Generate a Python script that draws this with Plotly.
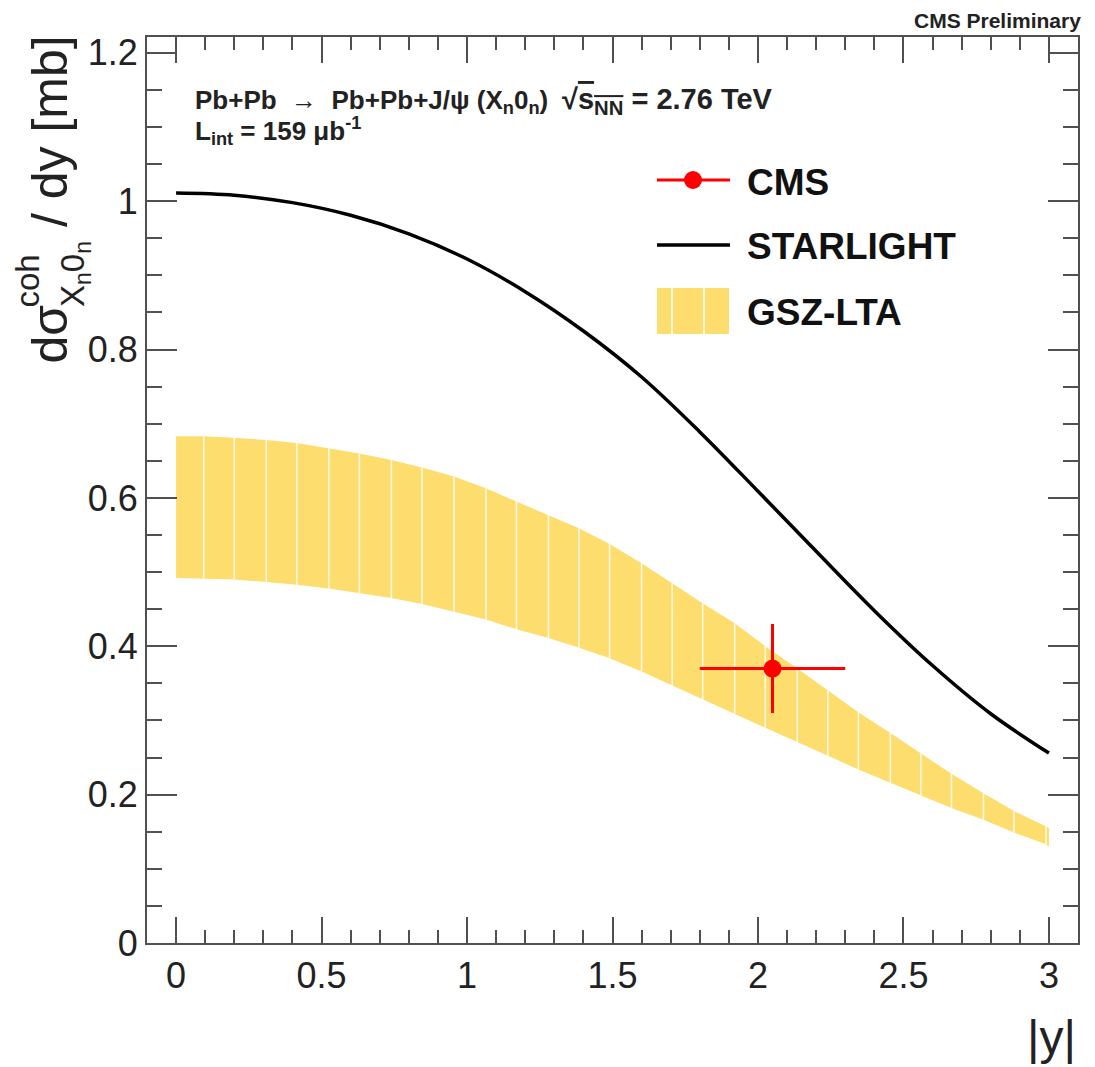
import plotly.graph_objects as go

# ---------------- data ----------------
# STARLIGHT prediction
starlight_y_abs = [0.0, 0.2, 0.4, 0.6, 0.8, 1.0, 1.2, 1.4, 1.6, 1.8, 2.0, 2.2, 2.4, 2.6, 2.8, 3.0]
starlight_xsec = [1.011, 1.008, 0.998, 0.981, 0.956, 0.922, 0.878, 0.825, 0.763, 0.689, 0.609,
                  0.528, 0.448, 0.374, 0.309, 0.256]

# GSZ-LTA band (nodes of the band polygon)
gsz_y_abs = [0.0, 0.095, 0.20, 0.31, 0.415, 0.525, 0.63, 0.74, 0.845, 0.955, 1.065, 1.17, 1.28,
             1.385, 1.49, 1.60, 1.705, 1.81, 1.92, 2.025, 2.135, 2.24, 2.345, 2.455, 2.56, 2.665,
             2.775, 2.88, 2.99, 3.0]
gsz_upper = [0.683, 0.683, 0.681, 0.678, 0.674, 0.667, 0.660, 0.651, 0.641, 0.629, 0.613, 0.595,
             0.577, 0.559, 0.538, 0.512, 0.485, 0.458, 0.431, 0.400, 0.370, 0.340, 0.311, 0.283,
             0.255, 0.228, 0.202, 0.178, 0.157, 0.155]
gsz_lower = [0.492, 0.491, 0.490, 0.4865, 0.483, 0.478, 0.472, 0.465, 0.457, 0.447, 0.436, 0.423,
             0.411, 0.398, 0.384, 0.366, 0.347, 0.328, 0.309, 0.290, 0.271, 0.252, 0.234, 0.216,
             0.199, 0.182, 0.166, 0.149, 0.133, 0.130]

# CMS measurement
cms_y_abs = [2.05]
cms_xsec = [0.37]
cms_xerr = [0.25]
cms_yerr = [0.06]

# ---------------- layout geometry ----------------
W, H = 1095, 1067
L, R, T, B = 147, 1078, 37, 943


def px(xpix):
    return (xpix - L) / (R - L)


def py(ypix):
    return (B - ypix) / (B - T)


FONT = "Liberation Sans, Arial, Helvetica, sans-serif"
AXCOL = "#505050"
BAND = "rgb(253,221,110)"
SEP = "rgba(255,255,255,0.8)"

fig = go.Figure()

# band
fig.add_trace(go.Scatter(x=gsz_y_abs, y=gsz_lower, mode="lines", line=dict(width=0),
                         showlegend=False, hoverinfo="skip"))
fig.add_trace(go.Scatter(x=gsz_y_abs, y=gsz_upper, mode="lines", line=dict(width=0),
                         fill="tonexty", fillcolor=BAND, showlegend=False, name="GSZ-LTA"))
# white separators between band polygons
sx, sy = [], []
for xv, lo, up in zip(gsz_y_abs[1:-1], gsz_lower[1:-1], gsz_upper[1:-1]):
    sx += [xv, xv, None]
    sy += [lo, up, None]
fig.add_trace(go.Scatter(x=sx, y=sy, mode="lines", line=dict(color=SEP, width=1.6),
                         showlegend=False, hoverinfo="skip"))

# STARLIGHT
fig.add_trace(go.Scatter(x=starlight_y_abs, y=starlight_xsec, mode="lines",
                         line=dict(color="black", width=3.5, shape="spline", smoothing=1.0),
                         showlegend=False, name="STARLIGHT"))

# CMS
fig.add_trace(go.Scatter(x=cms_y_abs, y=cms_xsec, mode="markers",
                         marker=dict(color="#ff0000", size=18),
                         error_x=dict(type="data", array=cms_xerr, color="#ff0000", thickness=3, width=0),
                         error_y=dict(type="data", array=cms_yerr, color="#ff0000", thickness=3, width=0),
                         showlegend=False, name="CMS"))

axis_common = dict(showline=True, linecolor=AXCOL, linewidth=2, mirror="ticks", ticks="inside",
                   tickcolor=AXCOL, tickwidth=2, showgrid=False, zeroline=False,
                   tickfont=dict(family=FONT, size=36, color="#222222"))

fig.update_xaxes(range=[-0.1, 3.1], dtick=0.5, tick0=0, ticklen=26,
                 minor=dict(dtick=0.1, tick0=0, ticks="inside", ticklen=13, tickcolor=AXCOL, tickwidth=2,
                            showgrid=False),
                 **axis_common)
fig.update_yaxes(range=[0, 1.2213], dtick=0.2, tick0=0, ticklen=30,
                 minor=dict(dtick=0.05, tick0=0, ticks="inside", ticklen=15, tickcolor=AXCOL, tickwidth=2,
                            showgrid=False),
                 **axis_common)

ann = []
# y-axis title pieces (rotated)
ann.append(dict(text="dσ", x=px(50), y=py(366), xanchor="center", yanchor="bottom", textangle=-90,
                font=dict(family=FONT, size=50, color="#222")))
ann.append(dict(text="coh", x=px(27), y=py(309), xanchor="center", yanchor="bottom", textangle=-90,
                font=dict(family=FONT, size=33, color="#222")))
ann.append(dict(text="X<sub>n</sub>0<sub>n</sub>", x=px(75), y=py(309), xanchor="center", yanchor="bottom",
                textangle=-90, font=dict(family=FONT, size=33, color="#222")))
ann.append(dict(text="/ dy [mb]", x=px(50), y=py(33), xanchor="center", yanchor="top", textangle=-90,
                font=dict(family=FONT, size=50, color="#222")))
# x-axis title
ann.append(dict(text="|y|", x=px(1078), y=py(1037), xanchor="right", yanchor="middle",
                font=dict(family=FONT, size=48, color="#222")))
# CMS Preliminary
ann.append(dict(text="<b>CMS Preliminary</b>", x=px(1083), y=py(20), xanchor="right", yanchor="middle",
                font=dict(family=FONT, size=21, color="#222")))
# process text
ann.append(dict(text="<b>Pb+Pb  →  Pb+Pb+J/ψ (X<sub>n</sub>0<sub>n</sub>)</b>",
                x=px(193), y=py(101), xanchor="left", yanchor="middle",
                font=dict(family=FONT, size=26, color="#222")))
ann.append(dict(text="<b>√<span style='text-decoration:overline'>s<sub>NN</sub></span> = 2.76 TeV</b>",
                x=px(560), y=py(101), xanchor="left", yanchor="middle",
                font=dict(family=FONT, size=29, color="#222")))
ann.append(dict(text="<b>L<sub>int</sub> = 159 μb<sup>-1</sup></b>",
                x=px(193), y=py(131), xanchor="left", yanchor="middle",
                font=dict(family=FONT, size=26, color="#222")))

# legend
legend_labels = ["CMS", "STARLIGHT", "GSZ-LTA"]
legend_rows = [180, 245, 310]
for lab, row in zip(legend_labels, legend_rows):
    ann.append(dict(text="<b>" + lab + "</b>", x=px(745), y=py(row + 2), xanchor="left", yanchor="middle",
                    font=dict(family=FONT, size=37, color="#111")))

for a in ann:
    a.update(xref="paper", yref="paper", showarrow=False)

shapes = [
    # CMS legend
    dict(type="line", x0=px(657), x1=px(730), y0=py(180), y1=py(180), line=dict(color="#ff0000", width=3)),
    dict(type="circle", x0=px(684), x1=px(702), y0=py(171), y1=py(189), fillcolor="#ff0000",
         line=dict(color="#ff0000", width=0)),
    # STARLIGHT legend
    dict(type="line", x0=px(657), x1=px(730), y0=py(245), y1=py(245), line=dict(color="black", width=3.5)),
    # GSZ-LTA legend
    dict(type="rect", x0=px(657), x1=px(729), y0=py(288), y1=py(334), fillcolor=BAND, line=dict(width=0)),
    dict(type="line", x0=px(672), x1=px(672), y0=py(288), y1=py(334), line=dict(color=SEP, width=2)),
    dict(type="line", x0=px(704), x1=px(704), y0=py(288), y1=py(334), line=dict(color=SEP, width=2)),
]
for s in shapes:
    s.update(xref="paper", yref="paper")

fig.update_layout(width=W, height=H, autosize=False,
                  margin=dict(l=L, r=W - R, t=T, b=H - B, pad=0),
                  paper_bgcolor="white", plot_bgcolor="white",
                  annotations=ann, shapes=shapes, showlegend=False,
                  font=dict(family=FONT))

fig.write_html("out.html")
